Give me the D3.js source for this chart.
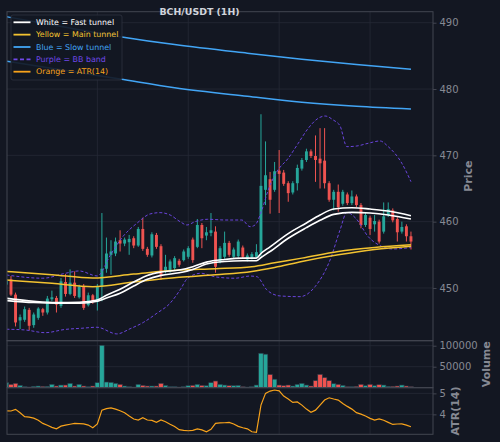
<!DOCTYPE html>
<html><head><meta charset="utf-8">
<script src="https://cdn.jsdelivr.net/npm/d3@7"></script>
<style>html,body{margin:0;padding:0;background:#131722;}svg{display:block;}</style>
</head><body><svg id="c" width="500" height="442"></svg>
<script>
// ---- DATA ----
const title = "BCH/USDT (1H)";
const candleIndex = d3.range(-1, 89);
const open  = [450.5,451.3,449.0,445.1,445.2,446.7,444.4,445.5,446.8,446.3,448.3,448.5,447.3,450.9,449.1,450.8,448.6,450.3,447.4,448.9,447.9,450.2,452.9,455.0,455.2,457.2,456.7,456.9,457.5,456.4,458.9,455.9,454.9,458.0,456.3,452.5,452.5,453.0,454.1,454.2,454.7,457.3,456.2,459.5,457.9,458.3,458.5,454.0,454.7,456.8,454.7,454.8,456.1,454.3,454.6,454.7,455.3,464.8,466.4,464.8,467.7,467.4,465.8,464.4,465.8,468.0,469.3,470.6,469.9,469.5,469.2,465.8,463.3,464.5,462.7,464.1,462.8,463.8,462.5,459.5,460.6,459.6,460.0,458.5,461.0,461.7,460.4,458.5,459.3,457.8];
const high  = [451.5,451.8,449.3,446.0,447.2,447.0,446.3,447.1,447.0,448.8,449.6,448.8,451.5,452.1,452.8,452.5,450.5,450.6,449.3,449.1,450.6,461.3,457.6,457.2,457.6,458.7,457.6,458.0,457.8,459.2,460.6,456.2,458.4,458.3,456.6,455.0,454.3,454.8,454.4,455.8,456.3,457.6,460.4,459.8,459.2,461.3,459.3,456.3,458.5,457.1,456.1,457.3,456.4,455.2,455.4,456.6,476.2,472.1,467.5,469.0,470.8,467.8,466.1,466.1,468.6,469.6,471.0,470.9,473.0,474.1,474.1,466.1,464.8,465.6,464.8,464.4,464.7,464.1,462.8,461.3,460.9,461.0,460.3,462.9,462.9,462.0,460.7,460.0,459.6,458.5];
const low   = [450.2,448.8,444.2,443.8,444.9,443.6,444.0,445.2,445.8,446.0,448.0,446.3,447.0,448.7,448.9,448.5,448.4,446.7,447.2,447.6,446.6,448.0,452.3,452.0,454.8,455.5,456.3,455.0,456.0,456.2,455.6,454.7,454.6,455.9,451.2,452.2,452.3,452.7,453.2,454.0,454.4,453.8,456.0,456.0,457.2,457.8,452.3,453.7,454.4,454.7,454.5,454.5,454.4,454.0,454.3,454.5,454.8,462.5,461.2,464.5,461.3,465.4,463.0,464.1,464.7,467.7,469.0,469.6,466.0,465.0,465.0,463.0,461.7,461.5,462.4,462.5,462.5,462.2,459.0,459.2,458.0,458.5,456.7,458.2,460.7,459.9,457.0,458.2,457.0,455.8];
const close = [451.2,449.0,444.8,445.6,446.8,444.3,446.0,446.9,446.3,448.4,448.6,447.5,451.0,449.1,450.8,448.8,450.2,447.0,448.9,447.9,450.3,452.9,455.2,455.5,457.0,456.7,457.3,457.4,456.4,458.9,455.9,455.0,458.1,456.2,452.0,453.2,454.0,454.5,453.5,455.5,456.0,454.2,459.5,457.5,458.4,458.7,453.2,456.0,456.8,455.0,455.8,457.0,454.7,454.9,455.1,455.4,465.4,467.0,463.3,467.6,467.2,465.7,464.3,465.8,468.1,469.3,470.6,469.9,469.3,468.8,465.8,463.3,464.5,462.2,464.5,462.8,463.8,462.5,459.5,461.0,458.9,460.1,457.0,460.8,461.9,460.2,458.4,459.2,457.8,457.0];
const volume = [11900,7900,10300,5500,2400,1700,3200,4000,3200,3200,7900,4000,6300,6300,10300,4000,7900,4000,2400,4000,11900,101000,13500,12700,10300,7900,4000,2400,1600,7900,5500,4000,4000,4000,10300,5500,2400,2400,1600,2400,4800,5500,7900,5500,4800,11900,15900,7900,6300,4800,4800,5500,2400,1600,2400,6300,82000,79800,31300,20200,6300,4800,6300,4000,7900,10300,6300,4000,16700,31700,24000,16700,9500,7900,5500,2400,2400,3200,7900,4800,7900,4800,7100,6300,3200,3200,4000,6300,4000,2400];
const atr = [4.17,4.16,4.24,4.08,3.89,3.87,3.82,3.72,3.57,3.48,3.38,3.31,3.44,3.49,3.53,3.57,3.56,3.55,3.49,3.36,3.54,4.20,4.27,4.31,4.25,4.17,4.08,3.92,3.78,3.73,3.84,3.73,3.71,3.62,3.73,3.65,3.53,3.42,3.27,3.24,3.22,3.24,3.31,3.26,3.17,3.29,3.57,3.59,3.60,3.62,3.54,3.43,3.36,3.31,3.17,3.14,4.44,5.00,5.11,5.16,5.12,4.87,4.73,4.57,4.59,4.44,4.25,4.10,4.20,4.44,4.68,4.79,4.73,4.68,4.52,4.38,4.25,4.08,4.01,3.92,3.81,3.73,3.78,3.72,3.62,3.52,3.54,3.55,3.49,3.41];

// overlay lines as [candle index, price]
const fastUpper = [[-1,448.45],[5,448.0],[10,447.8],[15,447.85],[19,448.2],[21,448.9],[24,449.8],[27,450.9],[30,451.9],[33,452.4],[37,452.7],[40,453.2],[43,453.9],[47,454.3],[51,454.5],[54,454.5],[55,455.2],[57,456.2],[61,458.2],[65,459.8],[68,461.0],[71,461.9],[75,462.1],[79,461.9],[83,461.6],[88,460.9]];
const fastLower = [[-1,448.1],[5,447.8],[10,447.7],[15,447.7],[19,448.0],[21,448.5],[24,449.2],[27,450.3],[30,451.3],[33,451.9],[37,452.3],[40,452.8],[43,453.6],[47,454.0],[51,454.1],[54,454.1],[55,454.6],[57,455.5],[61,457.5],[65,459.1],[68,460.2],[71,461.1],[75,461.4],[79,461.3],[83,461.0],[88,460.4]];
const mainUpper = [[-1,452.5],[9,452.0],[18,451.5],[27,452.1],[37,452.7],[45,452.9],[53,453.2],[58,453.8],[64,454.5],[72,455.5],[80,456.1],[88,456.5]];
const mainLower = [[-1,451.2],[9,450.7],[18,450.2],[27,450.9],[37,451.6],[45,452.0],[53,452.5],[58,453.1],[64,454.0],[72,455.0],[80,455.8],[88,456.3]];
const slowUpper = [[-1,490.9],[12,489.3],[24,487.9],[36,486.7],[52,485.4],[64,484.5],[76,483.7],[88,483.0]];
const slowLower = [[-1,484.2],[12,482.8],[24,481.5],[36,480.2],[52,478.9],[64,478.0],[76,477.4],[88,477.0]];
const bbUpper = [[-1,451.96],[7,451.47],[12,452.22],[15,452.57],[19,451.81],[22,455.13],[24.6,457.74],[27.7,459.76],[30.6,461.16],[32.8,461.36],[35,461.01],[37.2,460.0],[38.7,459.5],[40.5,460.0],[43.3,460.36],[47.1,460.25],[50.8,460.25],[52.6,459.24],[53.7,459.5],[55.2,461.76],[56.6,464.78],[58.5,467.54],[61,469.56],[63.2,471.82],[65.4,474.08],[67.6,475.59],[69.1,475.93],[70.9,475.33],[72.4,474.43],[73.9,471.31],[76.1,471.41],[78.6,471.82],[81.2,472.17],[83,471.31],[86,468.8],[88,466.03]];
const bbLower = [[-1,443.78],[3.1,443.67],[7.5,443.26],[11.9,443.75],[15.6,443.93],[18.9,444.08],[23.3,443.07],[26.2,443.85],[29.1,444.8],[32.1,446.19],[35,447.7],[37.2,449.7],[38.9,451.5],[41.8,452.22],[45.1,451.66],[49.3,451.47],[52.6,451.8],[54.1,451.7],[56.3,449.7],[59.2,448.8],[63.6,448.69],[66.9,450.2],[70.2,454.22],[72.4,458.75],[73.9,461.39],[75.9,460.48],[78.6,457.74],[81.6,456.26],[83.9,455.88],[88,456.1]];

const priceTicks = [450,460,470,480,490];
const volumeTicks = [50000,100000];
const atrTicks = [4,5];
const timeGridTicks = [19,39,59,79];
const legendItems = [
  {label:"White = Fast tunnel", color:"#ffffff", dash:null},
  {label:"Yellow = Main tunnel", color:"#f2c230", dash:null},
  {label:"Blue = Slow tunnel", color:"#42a5f5", dash:null},
  {label:"Purple = BB band", color:"#7048e8", dash:"4,2.5"},
  {label:"Orange = ATR(14)", color:"#f7a21b", dash:null}
];

// ---- LAYOUT ----
const BG="#131722", GRID="#262a36", SPINE="#434651", TXT="#868993";
const UP="#26a69a", DN="#ef5350";
const L=7, R=433, mainTop=11.7, mainBot=340.7, volBot=387.7, atrBot=434.3;

const svg = d3.select("#c");
svg.append("rect").attr("width",500).attr("height",442).attr("fill",BG);

const x = d3.scaleLinear().domain([-0.88, 92.85]).range([L,R]);
const y = d3.scaleLinear().domain([442.05, 491.66]).range([mainBot, mainTop]);
const yv = d3.scaleLinear().domain([0, 111900]).range([volBot, mainBot]);
const ya = d3.scaleLinear().domain([3.05, 5.27]).range([atrBot, volBot]);
const step = x(1)-x(0);

const defs = svg.append("defs");
function clip(id, y0, y1){
  defs.append("clipPath").attr("id",id).append("rect").attr("x",L).attr("y",y0).attr("width",R-L).attr("height",y1-y0);
}
clip("cm", mainTop, mainBot); clip("cv", mainBot, volBot); clip("ca", volBot, atrBot);

// grids
function grid(scale, ticks, y0, y1){
  const g = svg.append("g");
  g.selectAll("line.h").data(ticks).join("line")
    .attr("x1",L).attr("x2",R).attr("y1",d=>scale(d)).attr("y2",d=>scale(d))
    .attr("stroke",GRID).attr("stroke-width",0.8);
  g.selectAll("line.v").data(timeGridTicks).join("line")
    .attr("x1",d=>x(d)).attr("x2",d=>x(d)).attr("y1",y0).attr("y2",y1)
    .attr("stroke",GRID).attr("stroke-width",0.8);
}
grid(y, priceTicks, mainTop, mainBot);
grid(yv, volumeTicks, mainBot, volBot);
grid(ya, atrTicks, volBot, atrBot);

// main panel
const gm = svg.append("g").attr("clip-path","url(#cm)");
const candles = candleIndex.map((i,k)=>({i, o:open[k], h:high[k], l:low[k], c:close[k], v:volume[k], a:atr[k]}));
const col = d=> d.c>=d.o ? UP : DN;
gm.selectAll("line.w").data(candles).join("line")
  .attr("x1",d=>x(d.i)).attr("x2",d=>x(d.i)).attr("y1",d=>y(d.h)).attr("y2",d=>y(d.l))
  .attr("stroke",col).attr("stroke-width",1);
const bw = step*0.64;
gm.selectAll("rect.b").data(candles).join("rect")
  .attr("x",d=>x(d.i)-bw/2).attr("width",bw)
  .attr("y",d=>y(Math.max(d.o,d.c)))
  .attr("height",d=>Math.max(0.8, Math.abs(y(d.o)-y(d.c))))
  .attr("fill",col);

const line = d3.line().x(d=>x(d[0])).y(d=>y(d[1])).curve(d3.curveMonotoneX);
function drawLine(data, color, w, dash){
  const p = gm.append("path").datum(data).attr("d",line).attr("fill","none")
    .attr("stroke",color).attr("stroke-width",w);
  if(dash) p.attr("stroke-dasharray",dash);
}
drawLine(slowUpper,"#42a5f5",1.5);
drawLine(slowLower,"#42a5f5",1.5);
drawLine(bbUpper,"#6a45dc",1,"3,2");
drawLine(bbLower,"#6a45dc",1,"3,2");
drawLine(mainUpper,"#f2c230",1.5);
drawLine(mainLower,"#f2c230",1.5);
drawLine(fastUpper,"#ffffff",1.6);
drawLine(fastLower,"#ffffff",1.6);

// volume panel
const gv = svg.append("g").attr("clip-path","url(#cv)");
gv.selectAll("rect").data(candles).join("rect")
  .attr("x",d=>x(d.i)-step/2).attr("width",step)
  .attr("y",d=>yv(d.v)).attr("height",d=>yv(0)-yv(d.v))
  .attr("fill",col).attr("stroke","#2b3a48").attr("stroke-width",0.6);

// ATR panel
const ga = svg.append("g").attr("clip-path","url(#ca)");
ga.append("path").datum(candles).attr("fill","none").attr("stroke","#f7a21b").attr("stroke-width",1.2)
  .attr("d", d3.line().x(d=>x(d.i)).y(d=>ya(d.a)));

// spines
[[mainTop,mainBot],[mainBot,volBot],[volBot,atrBot]].forEach(([a,b])=>{
  svg.append("rect").attr("x",L).attr("y",a).attr("width",R-L).attr("height",b-a)
    .attr("fill","none").attr("stroke",SPINE).attr("stroke-width",1);
});

// right axes
function rAxis(scale, ticks, fmt){
  const g = svg.append("g").attr("transform",`translate(${R},0)`)
    .call(d3.axisRight(scale).tickValues(ticks).tickSize(3.5).tickPadding(3).tickFormat(fmt));
  g.select(".domain").remove();
  g.selectAll("line").attr("stroke",SPINE);
  g.selectAll("text").attr("fill",TXT).style("font-family","DejaVu Sans").style("font-size","10px");
}
rAxis(y, priceTicks, d3.format("d"));
rAxis(yv, volumeTicks, d3.format("d"));
rAxis(ya, atrTicks, d3.format("d"));

function yLabel(t, cx, cy){
  svg.append("text").attr("transform",`translate(${cx},${cy}) rotate(-90)`)
    .attr("text-anchor","middle").attr("dominant-baseline","central")
    .attr("fill",TXT).style("font-family","DejaVu Sans").style("font-weight","bold").style("font-size","11px")
    .text(t);
}
yLabel("Price", 468, (mainTop+mainBot)/2);
yLabel("Volume", 486.5, (mainBot+volBot)/2);
yLabel("ATR(14)", 455.7, (volBot+atrBot)/2);

// title
svg.append("text").attr("x",199.5).attr("y",14.5).attr("text-anchor","middle")
  .attr("fill","#d1d4dc").style("font-family","DejaVu Sans").style("font-weight","bold").style("font-size","9.4px")
  .text(title);

// legend
const lg = svg.append("g").attr("transform","translate(11,15)");
lg.append("rect").attr("width",111).attr("height",65).attr("rx",2)
  .attr("fill","#131722").attr("fill-opacity",0.9).attr("stroke","#2f3340").attr("stroke-width",0.8);
const items = lg.selectAll("g").data(legendItems).join("g")
  .attr("transform",(d,k)=>`translate(0,${7.3+k*12.35})`);
items.append("line").attr("x1",2.5).attr("x2",19.5).attr("y1",0).attr("y2",0)
  .attr("stroke",d=>d.color).attr("stroke-width",1.8).attr("stroke-dasharray",d=>d.dash);
items.append("text").attr("x",25).attr("y",0).attr("dominant-baseline","central")
  .attr("fill",d=>d.color).style("font-family","DejaVu Sans").style("font-size","7.9px")
  .text(d=>d.label);
</script>
</body></html>
